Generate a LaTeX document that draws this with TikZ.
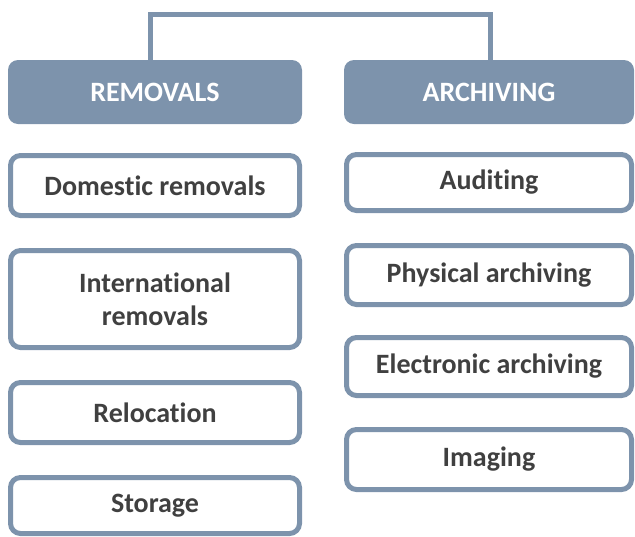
\documentclass[tikz,border=0pt]{standalone}
\usepackage{fontspec}
\setmainfont{Carlito}[Ligatures={NoCommon}]
\definecolor{frame}{RGB}{125,147,172}
\definecolor{txt}{RGB}{64,64,64}
\tikzset{
  header/.style={fill=frame, rounded corners=10pt, text=white, font=\fontsize{28}{33}\selectfont\bfseries, minimum height=64pt, inner sep=0pt},
  item/.style={draw=frame, line width=5pt, fill=white, rounded corners=10pt, text=txt, font=\fontsize{28}{33}\selectfont\bfseries, align=center, inner sep=0pt},
  conn/.style={draw=frame, line width=5pt}
}
\begin{document}
\begin{tikzpicture}[x=1pt,y=-1pt]
\useasboundingbox (0,0) rectangle (635,536);
\node[header, minimum width=294pt] (hrem) at (155,92) {REMOVALS};
\node[header, minimum width=290pt] (harc) at (489,92) {ARCHIVING};
\node[item, minimum width=289pt, minimum height=60pt] (dom) at (155,185.5) {Domestic removals};
\node[item, minimum width=289pt, minimum height=97pt] (int) at (155,299) {International\\removals};
\node[item, minimum width=289pt, minimum height=60pt] (rel) at (155,412.5) {Relocation};
\node[item, minimum width=289pt, minimum height=56pt] (sto) at (155,505.5) {Storage};
\node[item, minimum width=285pt, minimum height=56pt] (aud) at (489,182.5) {Auditing};
\node[item, minimum width=285pt, minimum height=59pt] (phy) at (489,275) {Physical archiving};
\node[item, minimum width=285pt, minimum height=58pt] (ele) at (489,366.5) {Electronic archiving};
\node[item, minimum width=285pt, minimum height=60pt] (ima) at (489,459.5) {Imaging};
\coordinate (c1) at (150,14.5);
\coordinate (c2) at (490,14.5);
\draw[conn] (hrem.north -| c1) -- (c1) -- (c2) -- (harc.north -| c2);
\end{tikzpicture}
\end{document}
